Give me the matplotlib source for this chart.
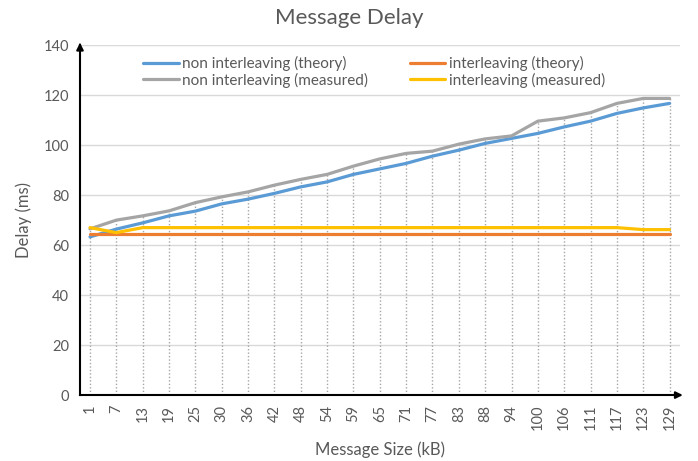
import matplotlib
matplotlib.use("Agg")
import matplotlib.pyplot as plt
import numpy as np

plt.rcParams['font.family'] = ['Lato', 'DejaVu Sans']

sizes = ["1", "7", "13", "19", "25", "30", "36", "42", "48", "54", "59", "65",
         "71", "77", "83", "88", "94", "100", "106", "111", "117", "123", "129"]
non_theory = [63.3, 66.4, 68.9, 71.7, 73.6, 76.5, 78.4, 80.7, 83.3, 85.3, 88.3, 90.5,
              92.7, 95.6, 98.0, 100.7, 102.7, 104.7, 107.3, 109.6, 112.7, 114.9, 116.7]
non_measured = [66.5, 70.0, 71.7, 73.7, 77.0, 79.3, 81.3, 84.0, 86.3, 88.3, 91.6, 94.5,
                96.7, 97.6, 100.4, 102.5, 103.7, 109.6, 110.9, 113.0, 116.7, 118.7, 118.7]
int_theory = [64.3] * 23
int_measured = [67.0, 65.0, 67.0, 67.0, 67.0, 67.0, 67.0, 67.0, 67.0, 67.0, 67.0, 67.0,
                67.0, 67.0, 67.0, 67.0, 67.0, 67.0, 67.0, 67.0, 67.0, 66.2, 66.2]

fig = plt.figure(figsize=(6.98, 4.61), dpi=100)
ax = fig.add_axes([0.1146, 0.143, 0.859, 0.759])

x = np.arange(len(sizes))
tops = np.max(np.vstack([non_theory, non_measured, int_theory, int_measured]), axis=0)
ax.vlines(x, 0, tops, colors="#a6a6a6", linestyles=(0, (1, 1.5)), linewidth=1.0, zorder=1)

ax.plot(x, non_theory, color="#5B9BD5", lw=2.3, label="non interleaving (theory)", zorder=3, solid_capstyle="round")
ax.plot(x, non_measured, color="#A5A5A5", lw=2.3, label="non interleaving (measured)", zorder=3, solid_capstyle="round")
ax.plot(x, int_theory, color="#ED7D31", lw=2.3, label="interleaving (theory)", zorder=3, solid_capstyle="round")
ax.plot(x, int_measured, color="#FFC000", lw=2.3, label="interleaving (measured)", zorder=3, solid_capstyle="round")

ax.set_xlim(-0.38, 22.38)
ax.set_ylim(0, 140)
ax.set_yticks(range(0, 141, 20))
ax.set_xticks(x)
ax.set_xticklabels(sizes, rotation=90, fontsize=10.5, color="#595959")
ax.tick_params(axis='y', labelsize=10.5, labelcolor="#595959", length=0, pad=8)
ax.tick_params(axis='x', length=0, pad=7)
ax.grid(axis='y', color="#d9d9d9", lw=1.0, zorder=0)
ax.set_axisbelow(True)
for s in ["top", "right"]:
    ax.spines[s].set_visible(False)
ax.spines["left"].set_color("black")
ax.spines["bottom"].set_color("black")
ax.spines["left"].set_linewidth(1.5)
ax.spines["bottom"].set_linewidth(1.5)

# arrow heads
ax.annotate("", xy=(1.01, 0), xytext=(0.99, 0), xycoords="axes fraction",
            arrowprops=dict(arrowstyle="-|>", color="black", lw=1.5, mutation_scale=10), annotation_clip=False)
ax.annotate("", xy=(0, 1.015), xytext=(0, 0.99), xycoords="axes fraction",
            arrowprops=dict(arrowstyle="-|>", color="black", lw=1.5, mutation_scale=10), annotation_clip=False)

ax.set_xlabel("Message Size (kB)", fontsize=12, color="#595959", labelpad=8)
ax.set_ylabel("Delay (ms)", fontsize=12, color="#595959", labelpad=8)
fig.suptitle("Message Delay", fontsize=16, color="#595959", y=0.983)

leg = ax.legend(ncol=2, loc="upper left", bbox_to_anchor=(0.088, 1.0), frameon=False,
                fontsize=11, handlelength=2.3, columnspacing=2.7, handletextpad=0.25,
                labelspacing=0.12, borderaxespad=0.3)
for t in leg.get_texts():
    t.set_color("#595959")

fig.savefig("out.png", dpi=100)
